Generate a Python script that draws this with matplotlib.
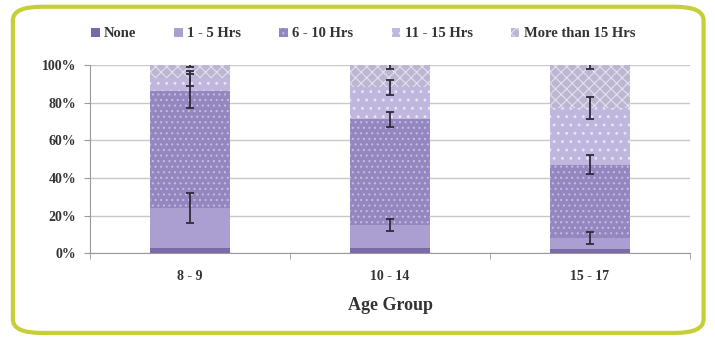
import matplotlib.pyplot as plt
import numpy as np
from matplotlib.patches import FancyBboxPatch
from matplotlib.ticker import PercentFormatter

groups = ["8 - 9", "10 - 14", "15 - 17"]
series = ["None", "1 - 5 Hrs", "6 - 10 Hrs", "11 - 15 Hrs", "More than 15 Hrs"]
none_pct = [3, 3, 2]
hrs_1_5 = [21, 12, 6]
hrs_6_10 = [62, 56, 39]
hrs_11_15 = [7, 17, 30]
hrs_15_plus = [7, 12, 23]
# error bar half-widths per series
err_none = [0, 0, 0]
err_1_5 = [8, 3, 3]
err_6_10 = [9, 4, 5]
err_11_15 = [4, 4, 6]
err_15_plus = [1, 2, 2]

values = [none_pct, hrs_1_5, hrs_6_10, hrs_11_15, hrs_15_plus]
errors = [err_none, err_1_5, err_6_10, err_11_15, err_15_plus]
colors = ["#7b69a8", "#ab9fd2", "#9486bf", "#c0b7de", "#bdb6d2"]
hatches = [None, None, "...", "..", "xxx"]
hatch_colors = ["#7b69a8", "#ab9fd2", "#c4bce0", "#ebe8f6", "#e4e0ee"]

plt.rcParams["hatch.linewidth"] = 0.8

fig = plt.figure(figsize=(7.15, 3.38), dpi=100)
border = FancyBboxPatch((0.018, 0.015), 0.966, 0.965, boxstyle="round,pad=0,rounding_size=0.04",
                        transform=fig.transFigure, facecolor="none", edgecolor="#c6cf35",
                        linewidth=3, zorder=5)
fig.patches.append(border)

ax = fig.add_axes([0.126, 0.251, 0.839, 0.557])
ax.set_facecolor("none")
x = np.arange(len(groups))
bottom = np.zeros(len(groups))
for name, vals, err, c, h, hc in zip(series, values, errors, colors, hatches, hatch_colors):
    vals = np.array(vals, dtype=float)
    ax.bar(x, vals, 0.4, bottom=bottom, color=c, hatch=h, edgecolor=hc, linewidth=0,
           label=name, zorder=2)
    top = bottom + vals
    if max(err) > 0:
        ax.errorbar(x, top, yerr=err, fmt="none", ecolor="#2f2a3a", elinewidth=1.3,
                    capsize=3, capthick=1.3, zorder=3)
    bottom = top

ax.set_ylim(0, 100)
ax.set_xlim(-0.5, 2.5)
ax.set_yticks(np.arange(0, 101, 20))
ax.yaxis.set_major_formatter(PercentFormatter(decimals=0))
ax.set_xticks(x)
ax.set_xticklabels(groups)
ax.set_xticks([-0.5, 0.5, 1.5, 2.5], minor=True)
ax.tick_params(axis="x", which="major", length=0, pad=12)
ax.tick_params(axis="x", which="minor", length=4, color="#999999")
ax.tick_params(axis="y", length=4, color="#999999", pad=6)
for lab in ax.get_xticklabels() + ax.get_yticklabels():
    lab.set_fontfamily("Liberation Serif")
    lab.set_fontweight("bold")
    lab.set_fontsize(10)
    lab.set_color("#333333")
ax.grid(axis="y", color="#c8c8c8", linewidth=1, zorder=0)
for s in ["top", "right"]:
    ax.spines[s].set_visible(False)
ax.spines["left"].set_color("#999999")
ax.spines["bottom"].set_color("#999999")
ax.set_xlabel("Age Group", fontfamily="Liberation Serif", fontweight="bold", fontsize=13,
              color="#333333", labelpad=10)

leg = ax.legend(loc="lower center", bbox_to_anchor=(0.455, 1.06), ncol=5, frameon=False,
                prop={"family": "Liberation Serif", "weight": "bold", "size": 10.5},
                handlelength=0.6, handleheight=0.6, handletextpad=0.3, columnspacing=2.6)
for t in leg.get_texts():
    t.set_color("#333333")

fig.savefig("out.png", dpi=100)
